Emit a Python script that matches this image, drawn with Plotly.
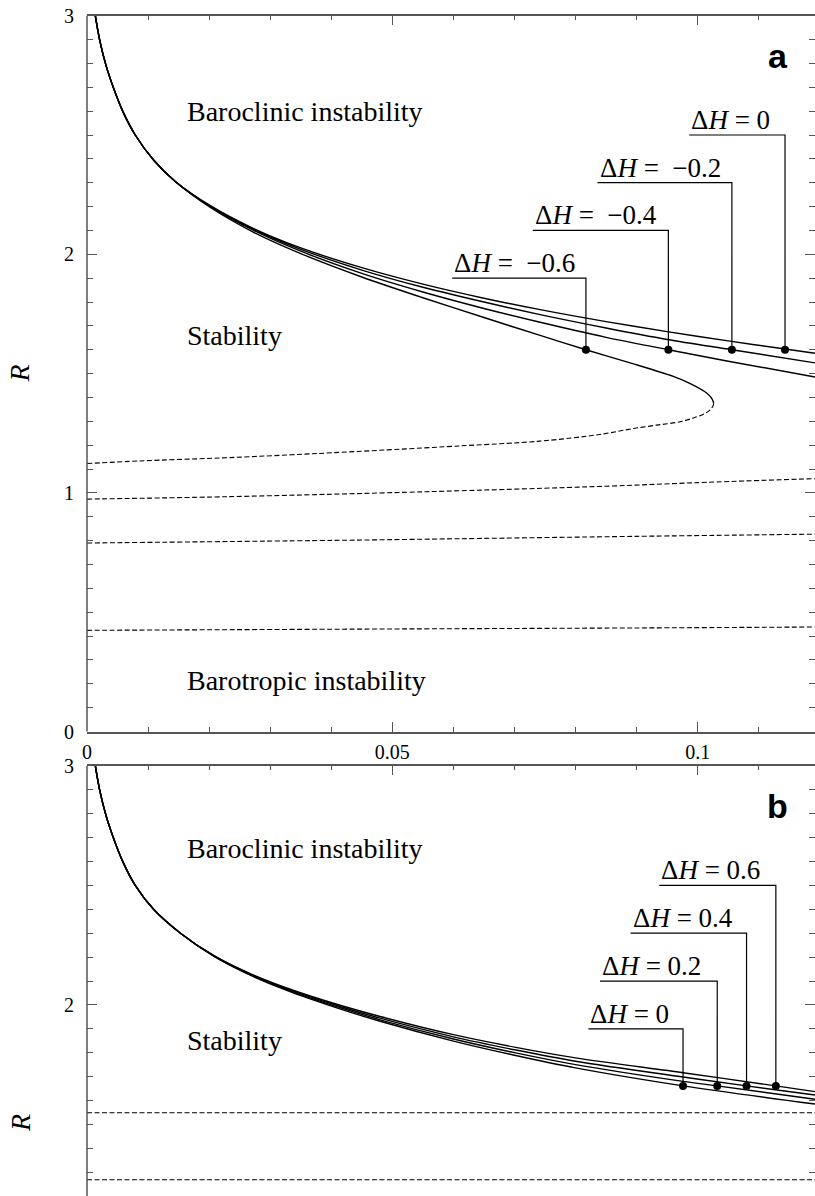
import plotly.graph_objects as go

# ---------------- data ----------------
# Panel a : solid neutral curves R(x) for ΔH = 0, -0.2, -0.4, -0.6
a_common_x = [0.00136, 0.00206, 0.0031, 0.00436, 0.0059, 0.0079, 0.0109, 0.0145]
a_common_r = [3.0, 2.90, 2.793, 2.696, 2.597, 2.50, 2.395, 2.304]

a_dh0_x = [0.0202, 0.0273, 0.0349, 0.045, 0.055, 0.065, 0.0742, 0.085, 0.095, 0.105, 0.1143, 0.1192]
a_dh0_r = [2.204, 2.108, 2.028, 1.944, 1.875, 1.816, 1.768, 1.718, 1.676, 1.637, 1.603, 1.585]

a_dhm02_x = [0.0202, 0.0273, 0.0349, 0.045, 0.055, 0.065, 0.0742, 0.085, 0.095, 0.1056, 0.1192]
a_dhm02_r = [2.202, 2.104, 2.022, 1.934, 1.862, 1.800, 1.747, 1.691, 1.643, 1.600, 1.545]

a_dhm04_x = [0.0202, 0.0273, 0.0349, 0.045, 0.055, 0.065, 0.0742, 0.085, 0.0952, 0.105, 0.1192]
a_dhm04_r = [2.200, 2.100, 2.014, 1.920, 1.842, 1.773, 1.715, 1.652, 1.600, 1.552, 1.486]

a_dhm06_x = [0.0202, 0.0273, 0.0349, 0.045, 0.055, 0.065, 0.0742, 0.0817, 0.0888, 0.096,
             0.0987, 0.10146, 0.10218, 0.10256, 0.1026]
a_dhm06_r = [2.196, 2.092, 2.004, 1.905, 1.818, 1.735, 1.660, 1.600, 1.546, 1.488,
             1.459, 1.419, 1.400, 1.382, 1.375]

# Panel a : dashed branches
a_dash1_x = [0.1026, 0.10256, 0.10213, 0.1012, 0.0993, 0.0971, 0.0933, 0.0895, 0.084, 0.0742,
             0.0611, 0.0377, 0.0234, 0.0087, 0.0]
a_dash1_r = [1.375, 1.368, 1.350, 1.333, 1.314, 1.298, 1.284, 1.270, 1.245, 1.217,
             1.197, 1.165, 1.148, 1.134, 1.123]
a_dash2_x = [0.0, 0.0229, 0.0556, 0.085, 0.10, 0.1192]
a_dash2_r = [0.974, 0.984, 1.005, 1.028, 1.043, 1.060]
a_dash3_x = [0.0, 0.0403, 0.0611, 0.09, 0.1192]
a_dash3_r = [0.790, 0.801, 0.808, 0.818, 0.827]
a_dash4_x = [0.0, 0.0524, 0.09, 0.1192]
a_dash4_r = [0.424, 0.430, 0.434, 0.438]

# Panel a : marked points and their labels
a_labels = ["Δ<i>H</i> =\u00a0\u00a0−0.6", "Δ<i>H</i> =\u00a0\u00a0−0.4",
            "Δ<i>H</i> =\u00a0\u00a0−0.2", "Δ<i>H</i> = 0"]
a_mark_x = [0.0817, 0.0952, 0.1056, 0.1143]
a_mark_r = [1.6, 1.6, 1.6, 1.6]
a_label_x = [0.0598, 0.0730, 0.0836, 0.0986]
a_label_r = [1.9, 2.1, 2.3, 2.5]

# Panel b : solid neutral curves for ΔH = 0, 0.2, 0.4, 0.6
b_common_x = [0.00136, 0.00206, 0.0031, 0.00436, 0.0059, 0.0079, 0.0109, 0.0153]
b_common_r = [3.0, 2.90, 2.793, 2.696, 2.597, 2.50, 2.40, 2.300]

b_dh0_x = [0.0208, 0.0262, 0.0327, 0.0409, 0.048, 0.06, 0.07, 0.08, 0.0976, 0.1192]
b_dh0_r = [2.203, 2.131, 2.061, 1.988, 1.932, 1.849, 1.790, 1.737, 1.662, 1.586]
b_dh02_x = [0.0208, 0.0262, 0.0327, 0.0409, 0.048, 0.06, 0.07, 0.08, 0.0976, 0.1032, 0.1192]
b_dh02_r = [2.204, 2.133, 2.064, 1.993, 1.938, 1.858, 1.801, 1.751, 1.681, 1.662, 1.606]
b_dh04_x = [0.0208, 0.0262, 0.0327, 0.0409, 0.048, 0.06, 0.07, 0.08, 0.0976, 0.108, 0.1192]
b_dh04_r = [2.205, 2.135, 2.067, 1.998, 1.945, 1.867, 1.813, 1.765, 1.699, 1.662, 1.624]
b_dh06_x = [0.0208, 0.0262, 0.0327, 0.0409, 0.048, 0.06, 0.07, 0.08, 0.0976, 0.1128, 0.1192]
b_dh06_r = [2.206, 2.137, 2.071, 2.003, 1.952, 1.876, 1.824, 1.779, 1.717, 1.662, 1.638]

b_dash_levels = [1.55, 1.27]

b_labels = ["Δ<i>H</i> = 0", "Δ<i>H</i> = 0.2", "Δ<i>H</i> = 0.4", "Δ<i>H</i> = 0.6"]
b_mark_x = [0.0976, 0.1032, 0.108, 0.1128]
b_mark_r = [1.662, 1.662, 1.662, 1.662]
b_label_x = [0.0821, 0.0840, 0.0890, 0.0937]
b_label_r = [1.9, 2.1, 2.3, 2.5]

# region labels
a_regions = ["Baroclinic instability", "Stability", "Barotropic instability"]
a_region_r = [2.597, 1.661, 0.215]
b_regions = ["Baroclinic instability", "Stability"]
b_region_r = [2.653, 1.85]
region_x = 0.01605

X_MAX = 0.11921
Y_RANGE_A = [0, 3]
Y_RANGE_B = [1.2018, 3]

# ---------------- figure ----------------
W, H = 815, 1196
ya_dom = [1 - 731.5 / H, 1 - 15.7 / H]
yb_dom = [0, 1 - 765.7 / H]

fig = go.Figure()
SERIF = "Liberation Serif"
AX = "#555555"


def curve(x, y, xa, ya, dash="solid", width=1.4):
    fig.add_trace(go.Scatter(
        x=x, y=y, xaxis=xa, yaxis=ya, mode="lines",
        line=dict(color="black", width=width, dash=dash, shape="spline", smoothing=0.9),
        hoverinfo="skip", showlegend=False))


# panel a
for xs, rs in [(a_dh0_x, a_dh0_r), (a_dhm02_x, a_dhm02_r), (a_dhm04_x, a_dhm04_r), (a_dhm06_x, a_dhm06_r)]:
    curve(a_common_x + xs, a_common_r + rs, "x", "y")
DASH = "5px,2.5px"
for xs, rs in [(a_dash1_x, a_dash1_r), (a_dash2_x, a_dash2_r), (a_dash3_x, a_dash3_r), (a_dash4_x, a_dash4_r)]:
    curve(xs, rs, "x", "y", dash=DASH, width=1.1)

# panel b
for xs, rs in [(b_dh0_x, b_dh0_r), (b_dh02_x, b_dh02_r), (b_dh04_x, b_dh04_r), (b_dh06_x, b_dh06_r)]:
    curve(b_common_x + xs, b_common_r + rs, "x2", "y2")
for lev in b_dash_levels:
    fig.add_trace(go.Scatter(x=[0, X_MAX], y=[lev, lev], xaxis="x2", yaxis="y2", mode="lines",
                             line=dict(color="black", width=1.1, dash=DASH),
                             hoverinfo="skip", showlegend=False))

annotations = []
# label connectors, markers, label texts
for (labels, mx, mr, lx, lr, xa, ya) in [
        (a_labels, a_mark_x, a_mark_r, a_label_x, a_label_r, "x", "y"),
        (b_labels, b_mark_x, b_mark_r, b_label_x, b_label_r, "x2", "y2")]:
    for i in range(len(labels)):
        fig.add_trace(go.Scatter(x=[lx[i], mx[i], mx[i]], y=[lr[i], lr[i], mr[i]],
                                 xaxis=xa, yaxis=ya, mode="lines",
                                 line=dict(color="black", width=1.2),
                                 hoverinfo="skip", showlegend=False))
        annotations.append(dict(x=lx[i], y=lr[i], xref=xa, yref=ya, text=labels[i],
                                showarrow=False, xanchor="left", yanchor="bottom", yshift=-2,
                                font=dict(family=SERIF, size=27, color="black")))
    fig.add_trace(go.Scatter(x=mx, y=mr, xaxis=xa, yaxis=ya, mode="markers",
                             marker=dict(color="black", size=8),
                             hoverinfo="skip", showlegend=False))

for txt, r in zip(a_regions, a_region_r):
    annotations.append(dict(x=region_x, y=r, xref="x", yref="y", text=txt, showarrow=False,
                            xanchor="left", yanchor="middle",
                            font=dict(family=SERIF, size=28, color="black")))
for txt, r in zip(b_regions, b_region_r):
    annotations.append(dict(x=region_x, y=r, xref="x2", yref="y2", text=txt, showarrow=False,
                            xanchor="left", yanchor="middle",
                            font=dict(family=SERIF, size=28, color="black")))

# panel letters
annotations.append(dict(x=0.1131, y=2.831, xref="x", yref="y", text="<b>a</b>", showarrow=False,
                        xanchor="center", yanchor="middle",
                        font=dict(family="Liberation Sans", size=34, color="black")))
annotations.append(dict(x=0.1131, y=2.832, xref="x2", yref="y2", text="<b>b</b>", showarrow=False,
                        xanchor="center", yanchor="middle",
                        font=dict(family="Liberation Sans", size=34, color="black")))

# axis titles R
annotations.append(dict(x=0, y=1 - 373.6 / H, xref="paper", yref="paper", text="<i>R</i>",
                        showarrow=False, textangle=-90, xanchor="center", yanchor="middle", xshift=-67,
                        font=dict(family=SERIF, size=28, color="black")))
annotations.append(dict(x=0, y=1 - 1123 / H, xref="paper", yref="paper", text="<i>R</i>",
                        showarrow=False, textangle=-90, xanchor="center", yanchor="middle", xshift=-67,
                        font=dict(family=SERIF, size=28, color="black")))

tickfont = dict(family=SERIF, size=20, color="black")
xcommon = dict(range=[0, X_MAX], dtick=0.05, tick0=0, ticks="inside", ticklen=10, tickwidth=1,
               tickcolor=AX, showgrid=False, zeroline=False, tickfont=tickfont,
               showline=True, linecolor=AX, linewidth=1.5, automargin=False,
               minor=dict(dtick=0.01, tick0=0, ticks="inside", ticklen=5, tickwidth=1,
                          tickcolor=AX, showgrid=False))
ycommon = dict(dtick=1, tick0=0, ticks="inside", ticklen=10, tickwidth=1, tickcolor=AX,
               showgrid=False, zeroline=False, tickfont=tickfont, showline=False,
               mirror="ticks", ticklabelstandoff=12, automargin=False,
               minor=dict(dtick=0.1, tick0=0, ticks="inside", ticklen=6, tickwidth=1,
                          tickcolor=AX, showgrid=False))

fig.update_layout(
    width=W, height=H, margin=dict(l=87, r=0, t=0, b=0, pad=0, autoexpand=False),
    plot_bgcolor="white", paper_bgcolor="white", showlegend=False,
    xaxis=dict(domain=[0, 1], anchor="y", mirror="ticks", ticklabelstandoff=2, **xcommon),
    yaxis=dict(domain=ya_dom, anchor="x", range=Y_RANGE_A, **ycommon),
    xaxis2=dict(domain=[0, 1], anchor="y2", side="top", showticklabels=False, **xcommon),
    yaxis2=dict(domain=yb_dom, anchor="x2", range=Y_RANGE_B, **ycommon),
    annotations=annotations,
    shapes=[
        dict(type="line", xref="paper", yref="paper", x0=0, x1=0, y0=ya_dom[0], y1=ya_dom[1],
             line=dict(color=AX, width=1.5)),
        dict(type="line", xref="paper", yref="paper", x0=0, x1=0, y0=yb_dom[0], y1=yb_dom[1],
             line=dict(color=AX, width=1.5)),
    ],
)

fig.write_html("out.html")
